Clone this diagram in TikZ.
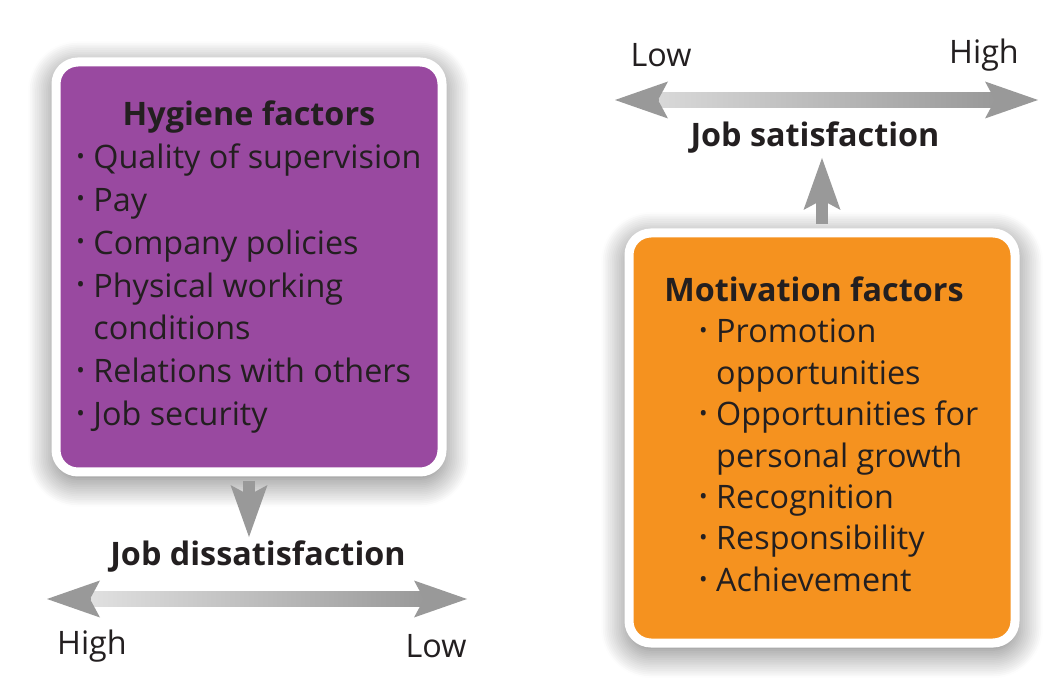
\documentclass[tikz,border=0pt]{standalone}
\usepackage{fontspec}
\setmainfont{Open Sans}
\usepackage{graphicx}
\usetikzlibrary{arrows.meta, shadows.blur, calc}

\definecolor{hygpurple}{RGB}{153,73,160}
\definecolor{motorange}{RGB}{245,146,31}
\definecolor{arrowgray}{RGB}{153,153,153}
\definecolor{txtdark}{RGB}{35,31,32}

\newcommand{\bul}{\makebox[0.17cm][l]{\raisebox{0.25ex}{\scalebox{0.7}{\textbullet}}}}
\newcommand{\hang}{\hspace*{0.17cm}}
\newcommand{\ind}{\hspace*{0.4cm}}

\begin{document}
\begin{tikzpicture}[
    font=\fontsize{9.2}{11}\selectfont, text=txtdark,
    factorbox/.style={draw=white, line width=0.09cm, rounded corners=0.22cm,
        minimum width=3.86cm, minimum height=4.1cm, inner sep=0pt,
        blur shadow={shadow blur radius=8pt, shadow blur steps=16, shadow xshift=0pt, shadow yshift=-2pt, shadow opacity=60}},
    lbl/.style={inner sep=1pt},
    headtip/.style={arrowgray, line width=0.5pt, -{Stealth[length=0.53cm, width=0.37cm, inset=0.1cm, line width=0pt]}},
    feed/.style={arrowgray, line width=0.12cm, -{Stealth[length=0.52cm, width=0.37cm, inset=0.1cm, line width=0pt]}}
  ]
  \useasboundingbox (0,0) rectangle (10.45,6.84);

  % Hygiene box
  \node[factorbox, fill=hygpurple] (hyg) at (2.49,4.17) {%
    \fontsize{9.2}{12.2}\selectfont
    \begin{tabular}{@{}l@{}}
      \multicolumn{1}{c}{\bfseries Hygiene factors}\\
      \bul Quality of supervision\\
      \bul Pay\\
      \bul Company policies\\
      \bul Physical working\\
      \hang conditions\\
      \bul Relations with others\\
      \bul Job security
    \end{tabular}};

  % Motivation box
  \node[factorbox, fill=motorange] (mot) at (8.22,2.46) {%
    \fontsize{9.2}{11.8}\selectfont
    \begin{tabular}{@{}l@{}}
      \multicolumn{1}{c}{\hspace*{-0.16cm}\bfseries Motivation factors}\\
      \ind\bul Promotion\\
      \ind\hang opportunities\\
      \ind\bul Opportunities for\\
      \ind\hang personal growth\\
      \ind\bul Recognition\\
      \ind\bul Responsibility\\
      \ind\bul Achievement
    \end{tabular}};

  % Labels
  \node[lbl, font=\fontsize{9.2}{11}\selectfont\bfseries] (sat) at (8.15,5.46) {Job satisfaction};
  \node[lbl, font=\fontsize{9.2}{11}\selectfont\bfseries] (dis) at (2.58,1.27) {Job dissatisfaction};
  \node[lbl] (satlo) at (6.61,6.29) {Low};
  \node[lbl] (sathi) at (9.84,6.29) {High};
  \node[lbl] (dishi) at (0.92,0.38) {High};
  \node[lbl] (dislo) at (4.36,0.38) {Low};

  % Feed arrows
  \draw[feed, shorten <=0.045cm] (hyg.south) -- (hyg.south |- dis.north);
  \draw[feed, shorten <=0.045cm] (mot.north) -- (mot.north |- sat.south);

  % Satisfaction scale
  \coordinate (satL) at (6.15,5.84);
  \coordinate (satR) at (10.38,5.84);
  \shade[left color=black!15, right color=arrowgray] ($(satL)+(0.42,-0.075)$) rectangle ($(satR)+(-0.42,0.075)$);
  \draw[headtip] ($(satL)+(0.44,0)$) -- (satL);
  \draw[headtip] ($(satR)+(-0.44,0)$) -- (satR);

  % Dissatisfaction scale
  \coordinate (disL) at (0.47,0.85);
  \coordinate (disR) at (4.67,0.85);
  \shade[left color=black!12, right color=arrowgray] ($(disL)+(0.42,-0.07)$) rectangle ($(disR)+(-0.42,0.07)$);
  \draw[headtip] ($(disL)+(0.44,0)$) -- (disL);
  \draw[headtip] ($(disR)+(-0.44,0)$) -- (disR);
\end{tikzpicture}
\end{document}
